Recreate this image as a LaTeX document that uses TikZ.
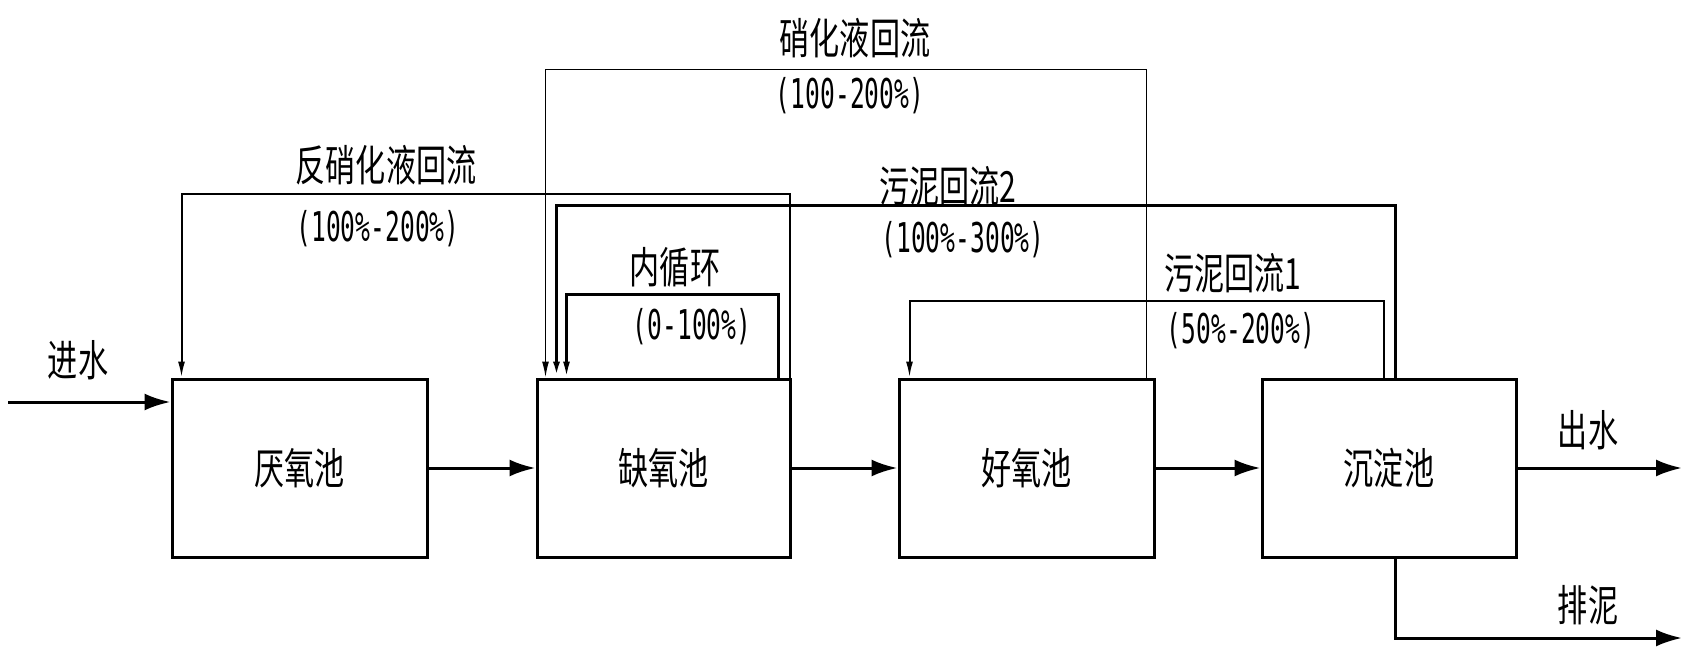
\documentclass[tikz,border=0pt]{standalone}
\usepackage{fontspec}
\usetikzlibrary{arrows.meta,calc}
\newfontfamily\cjk[FakeStretch=0.70]{Noto Sans CJK SC}
\newfontfamily\numf[FakeStretch=0.60]{DejaVu Sans Mono}
\begin{document}
\begin{tikzpicture}[x=1pt,y=-1pt,
 tank/.style={draw,line width=3pt,minimum width=255pt,minimum height=178pt,inner sep=0pt,font=\cjk\fontsize{43}{48}\selectfont},
 lab/.style={inner sep=0pt,font=\cjk\fontsize{43}{48}\selectfont},
 num/.style={inner sep=0pt,font=\numf\fontsize{41}{44}\selectfont},
 main/.style={line width=3pt,-{Latex[length=26pt,width=17pt]}},
 ret/.style={-{Latex[length=16pt,width=7pt]},line join=miter}
]
\useasboundingbox (0,0) rectangle (1686,655);
\fill[white] (0,0) rectangle (1686,655);

% tanks
\node[tank] (A) at (299.5,468) {厌氧池};
\node[tank,minimum width=253pt] (B) at (663.5,468) {缺氧池};
\node[tank] (C) at (1026.5,468) {好氧池};
\node[tank,minimum width=254pt] (D) at (1389,468) {沉淀池};

% main flow
\coordinate (in0) at (8,402);
\coordinate (out1) at (1682,468);
\coordinate (out2) at (1682,638);
\draw[main] (in0) -- (in0 -| A.west);
\draw[main] (A.east) -- (B.west);
\draw[main] (B.east) -- (C.west);
\draw[main] (C.east) -- (D.west);
\draw[main] (D.east) -- (out1);
\draw[main] ($(D.south)+(6,0)$) |- (out2);

% return flows
\draw[ret,line width=2pt] ($(B.north east)+(-2,0)$) -- ++(0,-183) -| ($(A.north west)+(11,0)$);
\draw[ret,line width=1.6pt] ($(C.north east)+(-9,0)$) -- ++(0,-308) -| ($(B.north west)+(10,0)$);
\draw[ret,line width=3pt] ($(D.north)+(6,0)$) -- ++(0,-172) -| ($(B.north west)+(21,0)$);
\draw[ret,line width=2.5pt] ($(B.north east)+(-13,0)$) -- ++(0,-83) -| ($(B.north west)+(31,0)$);
\draw[ret,line width=2pt] ($(D.north)+(-5,0)$) -- ++(0,-77) -| ($(C.north west)+(12,0)$);

% labels
\node[lab] (t1) at (855,38) {硝化液回流};
\node[num] (t1n) at (850,96) {(100-200\%)};
\node[lab] (t2) at (386,165) {反硝化液回流};
\node[num] (t2n) at (378,229) {(100\%-200\%)};
\node[lab] (t3) at (948,186) {污泥回流2};
\node[num] (t3n) at (963,240) {(100\%-300\%)};
\node[lab] (t4) at (675,267) {内循环};
\node[num] (t4n) at (692,327) {(0-100\%)};
\node[lab] (t5) at (1233,273) {污泥回流1};
\node[num] (t5n) at (1241,331) {(50\%-200\%)};
\node[lab] (t6) at (78,360) {进水};
\node[lab] (t7) at (1588,430) {出水};
\node[lab] (t8) at (1588,605) {排泥};
\end{tikzpicture}
\end{document}
